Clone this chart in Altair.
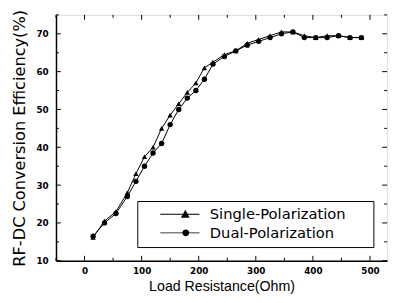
import altair as alt
import pandas as pd

# ---- data ----
x_vals = [15, 35, 55, 75, 90, 105, 120, 135, 150, 165, 180, 195, 210, 225,
          245, 265, 285, 305, 325, 345, 365, 385, 405, 425, 445, 465, 485]
single = [16.2, 20.5, 23.0, 28.0, 33.0, 37.5, 40.0, 45.0, 48.5, 51.5, 54.5, 57.0,
          61.0, 62.5, 64.5, 65.5, 67.5, 68.5, 69.5, 70.5, 70.5, 69.5, 69.0, 69.5,
          69.5, 69.0, 69.0]
dual = [16.5, 20.0, 22.5, 27.0, 31.0, 35.0, 38.5, 41.0, 46.0, 50.0, 53.0, 55.0,
        58.0, 62.0, 64.0, 65.5, 67.0, 68.0, 69.0, 70.0, 70.5, 69.0, 69.0, 69.0,
        69.5, 69.0, 69.0]
series_names = ["Single-Polarization", "Dual-Polarization"]
x_ticks = [0, 100, 200, 300, 400, 500]
x_minor = [-50, 50, 150, 250, 350, 450]
y_ticks = [10, 20, 30, 40, 50, 60, 70]
y_minor = [15, 25, 35, 45, 55, 65, 75]

rows = []
for xv, s, d in zip(x_vals, single, dual):
    rows.append({"x": xv, "y": s, "series": series_names[0]})
    rows.append({"x": xv, "y": d, "series": series_names[1]})
df = pd.DataFrame(rows)

W, H = 338, 251
FONT = "Liberation Sans"
WIDE = "DejaVu Sans"
xs = alt.Scale(domain=[-50, 530], nice=False)
ys = alt.Scale(domain=[10, 75], nice=False)

x_enc = alt.X("x:Q", scale=xs, axis=alt.Axis(
    title="Load Resistance(Ohm)", values=x_ticks, tickSize=0, labelPadding=6,
    labelFontSize=9, labelFontWeight="bold", titleFontSize=14.5, titleFont=FONT,
    titleFontWeight="normal", titlePadding=4, grid=False, labelFont=WIDE,
    domainColor="black", domainWidth=1.5, labelColor="black", titleColor="black"))
y_enc = alt.Y("y:Q", scale=ys, axis=alt.Axis(
    title="RF-DC Conversion Efficiency(%)", values=y_ticks, tickSize=0,
    labelPadding=8, labelFontSize=9, labelFontWeight="bold", titleFontSize=16.5,
    titleFont=WIDE, labelFont=WIDE,
    titleFontWeight="normal", titlePadding=9, grid=False,
    domainColor="black", domainWidth=1.5, labelColor="black", titleColor="black"))

base = alt.Chart(df)

lines = base.mark_line(color="black", strokeWidth=1).encode(
    x=x_enc, y=y_enc, detail="series:N")

points = base.mark_point(filled=True, color="black", size=30, opacity=1).encode(
    x="x:Q", y="y:Q",
    shape=alt.Shape("series:N", scale=alt.Scale(domain=series_names,
                                                range=["triangle-up", "circle"]),
                    legend=None))

tri_path = "M-4,-0.09H4V0.09H-4ZM0.2,0.7L1.1,-0.9L2,0.7Z"
circ_path = ("M-4,-0.09H4V0.09H-4Z"
             "M0.5,0A0.7,0.7,0,1,1,1.9,0A0.7,0.7,0,1,1,0.5,0Z")
legend_layer = base.transform_filter("datum.x < -1000").mark_point(
    filled=True, color="black", size=100, opacity=1
).encode(
    x="x:Q", y="y:Q",
    shape=alt.Shape("series:N",
                    scale=alt.Scale(domain=series_names, range=[tri_path, circ_path]),
                    legend=alt.Legend(
                        title=None, orient="none", legendX=83, legendY=190,
                        strokeColor="black", fillColor="white", padding=6,
                        labelFontSize=15, labelFont=WIDE, labelColor="black",
                        labelExpr="datum.label + '\u2800\u2800'", labelLimit=300,
                        symbolSize=100, symbolOffset=30, labelOffset=23,
                        rowPadding=3, symbolFillColor="black")))

# inward tick marks on all four sides
xt = pd.DataFrame({"v": x_ticks})
xm = pd.DataFrame({"v": x_minor})
yt = pd.DataFrame({"v": y_ticks})
ym = pd.DataFrame({"v": y_minor})

def xtick(data, ln):
    b = alt.Chart(data).mark_rule(color="black", strokeWidth=1)
    return (b.encode(x=alt.X("v:Q", scale=xs), y=alt.value(H), y2=alt.value(H - ln)) +
            b.encode(x=alt.X("v:Q", scale=xs), y=alt.value(0), y2=alt.value(ln)))

def ytick(data, ln):
    b = alt.Chart(data).mark_rule(color="black", strokeWidth=1)
    return (b.encode(y=alt.Y("v:Q", scale=ys), x=alt.value(0), x2=alt.value(ln)) +
            b.encode(y=alt.Y("v:Q", scale=ys), x=alt.value(W), x2=alt.value(W - ln)))

chart = alt.layer(
    lines, points, legend_layer,
    xtick(xt, 5), xtick(xm, 3), ytick(yt, 5), ytick(ym, 3)
).resolve_scale(shape="independent").properties(
    width=W, height=H,
    autosize=alt.AutoSizeParams(type="none"),
    padding={"left": 49, "top": 4, "right": 5, "bottom": 36},
).configure_view(stroke="black", strokeWidth=1.5).configure(
    font=FONT
)

chart.save("out.html", embed_options={"renderer": "svg", "actions": False})
